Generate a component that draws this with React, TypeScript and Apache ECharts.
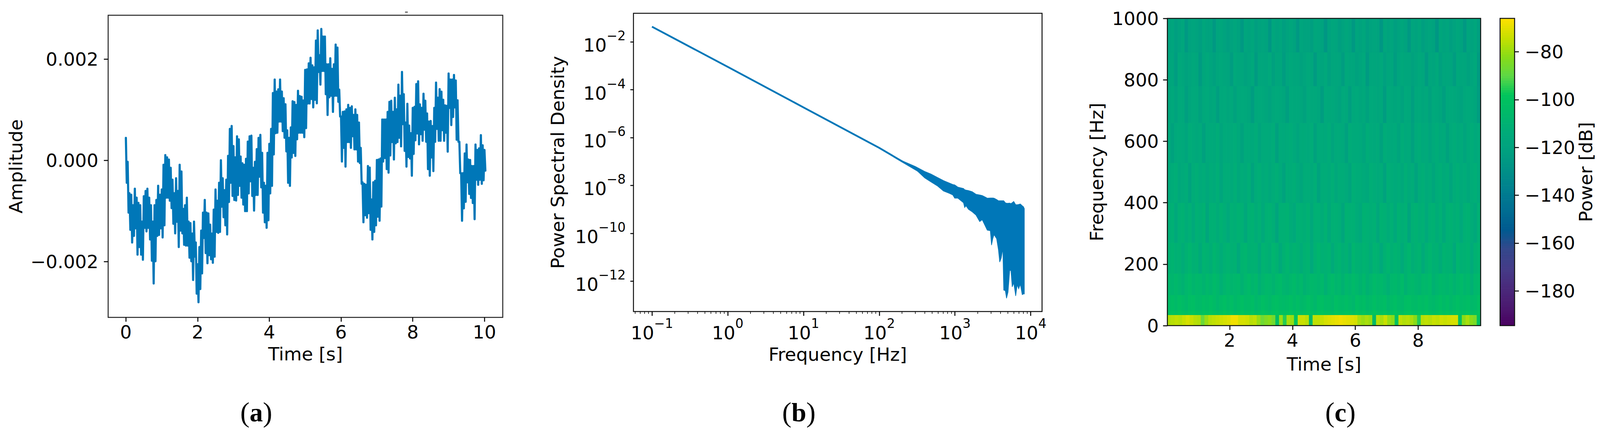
import React, { useEffect, useRef } from "react";
import * as echarts from "echarts";

const FONT = "DejaVu Sans";
const BLUE = "#0077b8";

// Panel (a): per 0.05 s sample, the local high and low of the trace, in units of 1e-3
const ampTop = [
  .447,-.026,-.646,-.676,-.883,-.558,-.735,-.838,-.883,-1.208,-.705,-.602,-.558,-.735,-.883,-1.208,-.883,-.779,-.499,-.676,
  -.572,-.085,.107,.063,.018,-.144,-.38,-.646,-.351,-.602,-.085,-.218,-.957,-.883,-.735,-1.208,-1.237,-1.444,-1.208,-1.62,
  -2.05,-1.71,-1.385,-1.03,-.779,-1.03,-1.045,-1.267,-1.444,-.971,-.572,-.794,-.44,
  .004,-.351,-.587,-.38,.092,.624,.683,.284,.063,.477,.417,.078,-.055,-.085,.033,.373,.477,.491,-.144,-.026,
  .225,.447,.506,.151,-.44,-.499,.151,.329,.624,1.334,1.6,1.363,1.407,1.6,1.363,1.23,1.112,.595,.447,.654,
  1.171,1.156,1.097,1.378,1.274,1.26,1.186,
  1.79,1.8,1.92,2.03,1.88,1.84,2.37,
  2.57,2.08,2.6,2.45,2.45,1.9,1.9,2.02,1.81,1.9,2.29,2.23,1.4,.87,.96,.97,1.01,1.1,1.04,1.07,
  .9,1.01,.9,.75,.25,-.43,-.46,-.48,-.11,-.14,-.77,-.43,-.4,.01,.02,.04,.81,.81,.81,.96,
  1.16,1.18,.96,1.24,1.01,1.5,1.28,1.75,1.31,.75,1.12,.69,.54,1.04,
  1.06,1.51,1.565,1.11,1.04,1.32,1.18,.93,.77,.78,.68,1.04,1.54,1.24,1.41,1.36,1.2,1.09,1.08,1.72,
  1.6,1.6,1.69,1.58,1.19,.37,-.25,-.25,.14,.315,.02,.01,-.11,-.11,.315,.21,.24,.5,.3,.21,
];
const ampBottom = [
  -.44,-1.03,-1.37,-1.62,-1.49,-1.34,-1.86,-1.71,-1.86,-1.96,-1.33,-1.4,-1.33,-1.56,-1.98,-2.43,-1.99,-1.49,-1.47,-1.34,
  -1.52,-1.28,-.735,-.735,-.794,-.94,-1.25,-1.44,-1.21,-1.71,-1.385,-1.44,-1.665,-1.68,-1.68,-1.92,-1.99,-2.36,-1.9,-2.63,
  -2.8,-2.54,-2.23,-1.53,-1.83,-2.03,-1.87,-1.95,-2.02,-1.9,-1.41,-1.43,-1.41,
  -.912,-1.12,-1.28,-1.46,-.82,-.44,-.7,-.78,-.79,-.68,-.5,-.735,-.87,-1,-1,-.65,-.41,-.7,-.99,-.68,
  -.68,-.32,-.53,-1.03,-1.22,-1.33,-1.18,-.65,-.5,.12,.54,.55,.77,.77,.58,.45,.18,-.44,-.5,.06,
  .15,.09,.42,.55,.55,.55,.46,
  .64,1.127,1.127,1.215,1.05,1.2,1.13,
  1.75,1.5,1.77,1.77,1.31,.9,1.25,1.28,.96,1.28,1.28,1.16,.87,-.02,.25,-.12,.365,.365,.25,.48,
  .22,.22,-.02,-.05,-.46,-1.22,-1.08,-1.13,-1.04,-1.37,-1.56,-1.41,-1.28,-1.11,-1.19,-.91,-.02,.05,-.17,-.24,
  .1,.365,.02,.34,.365,.45,.28,.72,.19,-.12,.07,.04,-.3,.13,
  .4,.535,.32,.52,.39,.61,.37,-.17,-.3,.06,-.21,.37,.625,.39,.39,.6,.39,.55,.175,1.04,
  .7,.86,1.05,.41,.37,-.25,-1.19,-.945,-.816,-.43,-.66,-.74,-.84,-1.16,-.38,-.48,-.38,-.46,-.39,-.2,
];
const ampStepSeconds = 0.05;
const ampTicks = [-0.002, 0, 0.002];
const timeTicksA = [0, 2, 4, 6, 8, 10];

// Panel (b)
const psdTrendFreq = [0.1, 1, 10, 100, 200, 399];
const psdTrend = [0.043, 9.0e-4, 1.83e-5, 3.73e-7, 1.02e-7, 2.8e-8];
const psdBandFreq = [100,200,300,399,482,583,705,853,937,993,1091,1296,1345,1397,1507,1690,1893,2122,2291,2473,2669,2932,3041,3162,3283,3548,3750,3899,4083,4286,4406,4624,4797,5023,5284,5483,5702,5970,6339,6637,6950,7295,7727,8017,8240];
const psdBandTop = [3.8e-7,1.08e-7,6.2e-8,3.85e-8,3.0e-8,2.19e-8,1.6e-8,1.245e-8,1.1e-8,1.06e-8,8.55e-9,7.5e-9,6.65e-9,6.4e-9,6.1e-9,5.5e-9,4.3e-9,4.0e-9,3.8e-9,3.35e-9,2.95e-9,3.0e-9,3.0e-9,3.0e-9,2.95e-9,2.6e-9,2.3e-9,2.3e-9,2.3e-9,2.3e-9,2.3e-9,1.9e-9,1.8e-9,1.8e-9,1.83e-9,1.74e-9,1.9e-9,2.15e-9,1.57e-9,1.57e-9,1.61e-9,1.68e-9,1.42e-9,1.3e-9,1.08e-9];
const psdBandBottom = [3.6e-7,0.96e-7,4.8e-8,2.06e-8,1.41e-8,9.7e-9,5.9e-9,4.6e-9,4.0e-9,2.95e-9,2.95e-9,1.9e-9,1.19e-9,1.42e-9,1.01e-9,7.9e-10,5.8e-10,3.1e-10,3.7e-10,2.25e-10,1.36e-10,1.28e-10,3.2e-11,6.0e-11,8.8e-11,6.0e-11,2.07e-11,6.3e-12,9.2e-12,2.35e-11,4.25e-13,4.0e-13,1.93e-13,3.5e-13,2.8e-12,2.8e-12,5.8e-13,8.5e-13,2.42e-13,7.0e-13,4.8e-13,7.5e-13,2.74e-13,2.92e-13,2.92e-13];
const freqTicksB = [0.1, 1, 10, 100, 1000, 10000];
const psdTicks = [1e-2, 1e-4, 1e-6, 1e-8, 1e-10, 1e-12];
const freqMinorTicks = [
  0.06,0.07,0.08,0.09,0.2,0.3,0.4,0.5,0.6,0.7,0.8,0.9,2,3,4,5,6,7,8,9,20,30,40,50,60,70,80,90,
  200,300,400,500,600,700,800,900,2000,3000,4000,5000,6000,7000,8000,9000,
];

// Panel (c)
const specFreqEdges = [35, 50, 100, 170, 270, 400, 530, 660, 780, 890, 1000];
const specRows = [
  [-100,-99,-101,-98,-100,-102,-99,-98,-100,-101,-99,-100,-98,-100,-102,-100,-98,-101,-99,-102,-100,-98,-101,-100,-99,-102,-100,-98,-100,-102,-99,-98,-100,-101,-100,-98,-101,-99,-102,-100,-98,-100,-102,-99,-98,-100,-100,-102,-98,-100,-101,-99,-100,-102,-98,-100,-99,-102,-100,-98,-101,-100,-99,-102,-100,-98,-100,-102,-99,-98,-100,-101,-99,-100,-98,-100,-102,-100,-98,-101,-99,-102,-100,-98,-101,-100,-99,-102,-100,-98],
  [-104,-103,-105,-102,-104,-106,-103,-102,-105,-105,-103,-104,-102,-104,-107,-104,-102,-105,-103,-106,-104,-102,-105,-104,-103,-107,-105,-102,-104,-106,-103,-102,-104,-105,-104,-102,-105,-103,-106,-105,-102,-104,-107,-103,-102,-105,-104,-106,-102,-104,-105,-103,-105,-107,-102,-104,-103,-106,-105,-102,-105,-104,-103,-107,-104,-102,-105,-106,-103,-102,-104,-105,-103,-104,-102,-105,-106,-104,-102,-105,-103,-106,-104,-102,-105,-104,-103,-106,-105,-102],
  [-107,-108,-106,-108,-110,-107,-105,-108,-106,-107,-109,-106,-108,-105,-107,-111,-108,-106,-108,-107,-106,-110,-107,-105,-108,-106,-111,-108,-106,-107,-109,-106,-105,-108,-109,-107,-105,-108,-106,-110,-108,-106,-107,-108,-106,-111,-107,-105,-108,-107,-110,-106,-108,-105,-107,-109,-106,-110,-108,-105,-107,-106,-108,-111,-107,-106,-108,-105,-110,-107,-106,-108,-109,-106,-107,-105,-110,-108,-106,-107,-108,-106,-109,-107,-105,-108,-106,-111,-107,-106],
  [-110,-109,-111,-110,-113,-110,-108,-111,-110,-114,-109,-110,-112,-108,-110,-113,-110,-109,-111,-110,-115,-109,-108,-111,-110,-110,-114,-109,-110,-112,-108,-110,-114,-110,-108,-111,-109,-110,-113,-110,-109,-115,-110,-108,-111,-110,-109,-114,-110,-109,-112,-110,-114,-108,-110,-111,-109,-110,-113,-109,-110,-115,-110,-108,-111,-109,-110,-114,-110,-108,-112,-110,-109,-114,-110,-108,-111,-110,-113,-109,-110,-110,-115,-108,-111,-110,-109,-114,-110,-109],
  [-112,-111,-116,-111,-110,-113,-111,-115,-111,-112,-110,-117,-111,-111,-113,-110,-112,-115,-111,-112,-110,-111,-116,-111,-110,-113,-111,-115,-111,-110,-112,-118,-111,-111,-110,-113,-115,-111,-111,-112,-110,-116,-111,-111,-113,-110,-115,-111,-111,-112,-117,-110,-111,-111,-113,-115,-110,-111,-112,-111,-116,-110,-111,-113,-111,-115,-110,-112,-111,-118,-111,-110,-112,-111,-115,-111,-110,-113,-111,-116,-111,-110,-112,-111,-115,-111,-110,-113,-116,-111],
  [-114,-113,-112,-116,-114,-113,-119,-113,-112,-114,-113,-116,-113,-114,-112,-118,-113,-113,-114,-112,-116,-113,-114,-112,-119,-113,-112,-114,-113,-116,-113,-112,-114,-119,-113,-113,-112,-114,-117,-113,-113,-114,-112,-119,-113,-113,-114,-112,-116,-113,-113,-114,-118,-112,-113,-113,-114,-116,-112,-113,-114,-113,-119,-112,-113,-114,-113,-116,-112,-114,-113,-119,-113,-112,-114,-113,-117,-113,-112,-114,-113,-118,-113,-112,-114,-113,-116,-113,-112,-114],
  [-115,-120,-115,-114,-115,-118,-113,-114,-116,-114,-121,-115,-114,-115,-113,-118,-114,-115,-114,-113,-115,-120,-114,-114,-115,-113,-118,-114,-114,-115,-113,-121,-114,-115,-114,-113,-115,-118,-114,-114,-115,-113,-120,-114,-114,-115,-113,-118,-114,-114,-115,-121,-113,-114,-114,-115,-118,-113,-114,-115,-114,-120,-113,-114,-115,-114,-118,-113,-115,-114,-121,-114,-113,-115,-114,-118,-114,-113,-115,-114,-120,-114,-113,-115,-114,-118,-114,-113,-115,-114],
  [-117,-116,-119,-115,-116,-122,-117,-115,-116,-120,-116,-115,-117,-116,-122,-116,-115,-117,-116,-120,-116,-115,-116,-117,-123,-116,-115,-116,-117,-119,-116,-115,-116,-117,-122,-115,-116,-116,-117,-120,-115,-116,-116,-117,-123,-115,-116,-116,-117,-119,-115,-116,-122,-116,-115,-117,-116,-120,-115,-116,-117,-116,-123,-115,-116,-117,-116,-119,-115,-116,-122,-116,-115,-117,-116,-120,-115,-116,-117,-122,-116,-115,-116,-117,-119,-116,-115,-116,-117,-123],
  [-118,-117,-123,-116,-117,-120,-118,-116,-117,-124,-117,-116,-118,-121,-117,-116,-117,-118,-123,-116,-117,-117,-120,-118,-116,-124,-117,-117,-118,-116,-121,-117,-117,-123,-118,-116,-117,-117,-120,-118,-116,-117,-124,-117,-118,-116,-121,-117,-117,-118,-123,-116,-117,-117,-120,-118,-116,-124,-117,-117,-118,-116,-121,-117,-117,-123,-118,-116,-117,-117,-120,-118,-116,-117,-124,-117,-118,-116,-121,-117,-117,-118,-123,-116,-117,-117,-120,-118,-116,-124],
  [-119,-118,-122,-119,-117,-125,-119,-118,-119,-122,-117,-119,-119,-125,-118,-117,-119,-122,-119,-117,-119,-125,-118,-119,-117,-122,-119,-118,-119,-126,-117,-119,-118,-122,-119,-117,-119,-125,-118,-119,-119,-122,-117,-118,-119,-126,-119,-117,-118,-122,-119,-117,-119,-125,-118,-119,-117,-122,-119,-118,-119,-126,-117,-119,-118,-122,-119,-117,-119,-125,-118,-119,-117,-122,-119,-118,-119,-126,-117,-119,-118,-122,-119,-117,-119,-125,-118,-119,-117,-122],
];
const specBand = [
  -77,-76,-75,-76,-74,-72,-74,-76,-77,-88,-80,-76,-75,-74,-73,-72,-71,-68,-68,-72,-72,-73,-76,-75,-80,-87,-84,-82,-86,-102,
  -80,-95,-78,-80,-98,-74,-74,-76,-105,-75,-75,-74,-72,-71,-70,-69,-68,-69,-70,-71,-72,-78,-80,-78,-80,-105,-76,-78,-74,-80,
  -82,-100,-75,-77,-76,-78,-82,-95,-76,-75,-76,-74,-75,-73,-74,-73,-72,-72,-100,-82,-78,-82,-85,-100,
];
const specBandHz = 35;
const specT0 = 0.016;
const specT1 = 9.99;
const timeTicksC = [2, 4, 6, 8];
const colorbarTicks = [-80, -100, -120, -140, -160, -180];
const colorStops = ["#4a0060","#4b1a70","#4a2a7c","#443c88","#34488c","#005a90","#006d92","#007e90","#008f88","#009f80","#00aa7a","#00b86a","#00c45c","#5ed845","#88dc18","#c8e000","#ffe000"];

const minusFmt = (s: string) => s.replace("-", "\u2212");
const logFmt = (v: number) => `{b|10}{s|${minusFmt(String(Math.round(Math.log10(v))))}}`;
const FS = 47;
const logRich = {
  b: { fontFamily: FONT, fontSize: FS, color: "#000", lineHeight: 64, verticalAlign: "bottom" },
  s: { fontFamily: FONT, fontSize: 33, color: "#000", lineHeight: 64, verticalAlign: "top" },
};

const tick = (values: number[], length = 11) => ({
  show: true, length, customValues: values, lineStyle: { color: "#000", width: 2.5 },
});
const label = (values: number[], margin: number, formatter?: any, rich?: any) => ({
  show: true, customValues: values, margin, fontFamily: FONT, fontSize: FS, color: "#000", formatter, rich, hideOverlap: false,
});
const noLine = { show: false, onZero: false };
const noSplit = { show: false };
const nameStyle = { fontFamily: FONT, fontSize: FS, color: "#000", verticalAlign: "middle" };

function buildOption(k: number) {
  const X = (v: number) => v * k;
  const caption = (letter: string, x: number) => ({
    type: "text", x: X(x), y: 1055,
    style: {
      text: `{p|(}{l|${letter}}{p|)}`, align: "center", verticalAlign: "middle",
      rich: {
        p: { fontFamily: "Liberation Serif", fontSize: 72, color: "#000" },
        l: { fontFamily: "Liberation Serif", fontSize: 68, fontWeight: "bold", color: "#000" },
      },
    },
  });

  const ampLine: number[][] = [];
  ampTop.forEach((top, i) => {
    const t = i * ampStepSeconds;
    ampLine.push([t, top * 1e-3]);
    ampLine.push([t + ampStepSeconds / 2, ampBottom[i] * 1e-3]);
  });

  const specCells: number[][] = [];
  specBand.forEach((db, i) => {
    const w = (specT1 - specT0) / specBand.length;
    specCells.push([specT0 + i * w, specT0 + (i + 1) * w, 0, specBandHz, db]);
  });
  specRows.forEach((row, r) => {
    const w = (specT1 - specT0) / row.length;
    row.forEach((db, i) => {
      specCells.push([specT0 + i * w, specT0 + (i + 1) * w, specFreqEdges[r], specFreqEdges[r + 1], db]);
    });
  });

  const barCells: number[][] = [];
  for (let db = -195; db < -66; db += 1) barCells.push([0, 1, db, db + 1, db + 0.5]);

  const cellRender = (_: any, api: any) => {
    const a = api.coord([api.value(0), api.value(2)]);
    const b = api.coord([api.value(1), api.value(3)]);
    const color = api.visual("color");
    return {
      type: "rect",
      shape: { x: a[0], y: b[1], width: b[0] - a[0], height: a[1] - b[1] },
      style: { fill: color, stroke: color, lineWidth: 1 },
    };
  };

  const bandRows = psdBandFreq.map((f, i) => [f, psdBandTop[i], psdBandBottom[i]]);

  return {
    animation: false,
    backgroundColor: "#fff",
    textStyle: { fontFamily: FONT },
    grid: [
      { left: X(290), top: 39, width: X(1058), height: 773, show: true, borderColor: "#222", borderWidth: 2.5, backgroundColor: "transparent" },
      { left: X(1698.5), top: 34, width: X(1095.5), height: 763, show: true, borderColor: "#111", borderWidth: 2.5, backgroundColor: "transparent" },
      { left: X(3130), top: 47, width: X(840), height: 786, show: true, borderColor: "#111", borderWidth: 2.5, backgroundColor: "transparent", z: 5 },
      { left: X(4022), top: 47, width: X(39), height: 786, show: true, borderColor: "#111", borderWidth: 2.5, backgroundColor: "transparent", z: 5 },
    ],
    xAxis: [
      {
        type: "value", gridIndex: 0, min: -0.494, max: 10.51, name: "Time [s]", nameLocation: "middle", nameGap: 93, nameTextStyle: nameStyle,
        axisLine: noLine, splitLine: noSplit, axisTick: tick(timeTicksA), axisLabel: label(timeTicksA, 14),
      },
      {
        type: "log", logBase: 10, gridIndex: 1, min: 0.057, max: 14125, name: "Frequency [Hz]", nameLocation: "middle", nameGap: 109, nameTextStyle: nameStyle,
        axisLine: noLine, splitLine: noSplit, minorTick: { show: false }, axisTick: tick(freqTicksB), axisLabel: label(freqTicksB, 14, logFmt, logRich),
      },
      {
        type: "value", gridIndex: 2, min: specT0, max: specT1, name: "Time [s]", nameLocation: "middle", nameGap: 98, nameTextStyle: nameStyle,
        axisLine: noLine, splitLine: noSplit, axisTick: tick(timeTicksC), axisLabel: label(timeTicksC, 14),
      },
      { type: "value", gridIndex: 3, min: 0, max: 1, show: false },
    ],
    yAxis: [
      {
        type: "value", gridIndex: 0, min: -0.0031, max: 0.00287, name: "Amplitude", nameLocation: "middle", nameGap: X(248), nameTextStyle: nameStyle,
        axisLine: noLine, splitLine: noSplit, axisTick: tick(ampTicks), axisLabel: label(ampTicks, 25, (v: number) => minusFmt(Number(v).toFixed(3))),
      },
      {
        type: "log", logBase: 10, gridIndex: 1, min: 5.4e-14, max: 0.156, name: "Power Spectral Density", nameLocation: "middle", nameGap: X(203), nameTextStyle: nameStyle,
        axisLine: noLine, splitLine: noSplit, minorTick: { show: false }, axisTick: tick(psdTicks, 8), axisLabel: label(psdTicks, 20, logFmt, logRich),
      },
      {
        type: "value", gridIndex: 2, min: 0, max: 1000, interval: 200, name: "Frequency [Hz]", nameLocation: "middle", nameGap: X(190), nameTextStyle: nameStyle,
        axisLine: noLine, splitLine: noSplit, axisTick: { show: true, length: 11, lineStyle: { color: "#000", width: 2.5 } },
        axisLabel: { margin: 22, fontFamily: FONT, fontSize: FS, color: "#000", hideOverlap: false, formatter: (v: number) => String(v) },
      },
      {
        type: "value", gridIndex: 3, position: "right", min: -194.5, max: -66, name: "Power [dB]", nameLocation: "middle", nameGap: X(191), nameRotate: 90, nameTextStyle: nameStyle,
        axisLine: noLine, splitLine: noSplit, axisTick: tick(colorbarTicks), axisLabel: label(colorbarTicks, 26, (v: number) => minusFmt(String(v))),
      },
    ],
    visualMap: {
      show: false, type: "continuous", min: -194.5, max: -66, dimension: 4, seriesIndex: [4, 5],
      inRange: { color: colorStops },
    },
    series: [
      {
        type: "line", name: "Amplitude", xAxisIndex: 0, yAxisIndex: 0, data: ampLine, showSymbol: false, symbol: "none", clip: true,
        lineStyle: { color: BLUE, width: 5.5, cap: "round", join: "round" },
      },
      {
        type: "line", name: "PSD", xAxisIndex: 1, yAxisIndex: 1, data: psdTrendFreq.map((f, i) => [f, psdTrend[i]]), showSymbol: false, symbol: "none",
        lineStyle: { color: BLUE, width: 4.5 },
      },
      {
        type: "custom", name: "PSD band", xAxisIndex: 1, yAxisIndex: 1, data: bandRows, encode: { x: 0, y: [1, 2] },
        renderItem: (p: any, api: any) => {
          if (p.dataIndex !== 0) return null;
          const up = bandRows.map((r) => api.coord([r[0], r[1]]));
          const down = bandRows.map((r) => api.coord([r[0], r[2]])).reverse();
          return { type: "polygon", shape: { points: up.concat(down) }, style: { fill: BLUE, stroke: BLUE, lineWidth: 1.5 } };
        },
      },
      {
        type: "custom", name: "Minor ticks", xAxisIndex: 1, yAxisIndex: 1, clip: false, data: freqMinorTicks.map((f) => [f, 5.4e-14]), encode: { x: 0, y: 1 },
        renderItem: (_: any, api: any) => {
          const c = api.coord([api.value(0), api.value(1)]);
          return { type: "line", shape: { x1: c[0], y1: c[1], x2: c[0], y2: c[1] + 6 }, style: { stroke: "#000", lineWidth: 1.5 } };
        },
      },
      {
        type: "custom", name: "Spectrogram", xAxisIndex: 2, yAxisIndex: 2, clip: true, data: specCells, encode: { x: [0, 1], y: [2, 3] }, renderItem: cellRender,
      },
      {
        type: "custom", name: "Colorbar", xAxisIndex: 3, yAxisIndex: 3, clip: true, data: barCells, encode: { x: [0, 1], y: [2, 3] }, renderItem: cellRender,
      },
    ],
    graphic: [
      caption("a", 687),
      caption("b", 2142),
      caption("c", 3594),
      { type: "rect", shape: { x: X(1086), y: 30, width: 7, height: 2 }, style: { fill: "#222" } },
    ],
  };
}

export default function App() {
  const ref = useRef<HTMLDivElement>(null);
  const w = Math.min(window.innerWidth, 4290);
  useEffect(() => {
    document.body.style.margin = "0";
    const chart = echarts.init(ref.current!, undefined, { renderer: "svg" });
    chart.setOption(buildOption(w / 4290) as any);
    return () => chart.dispose();
  }, []);
  return <div ref={ref} style={{ width: w, height: 1118 }} />;
}
